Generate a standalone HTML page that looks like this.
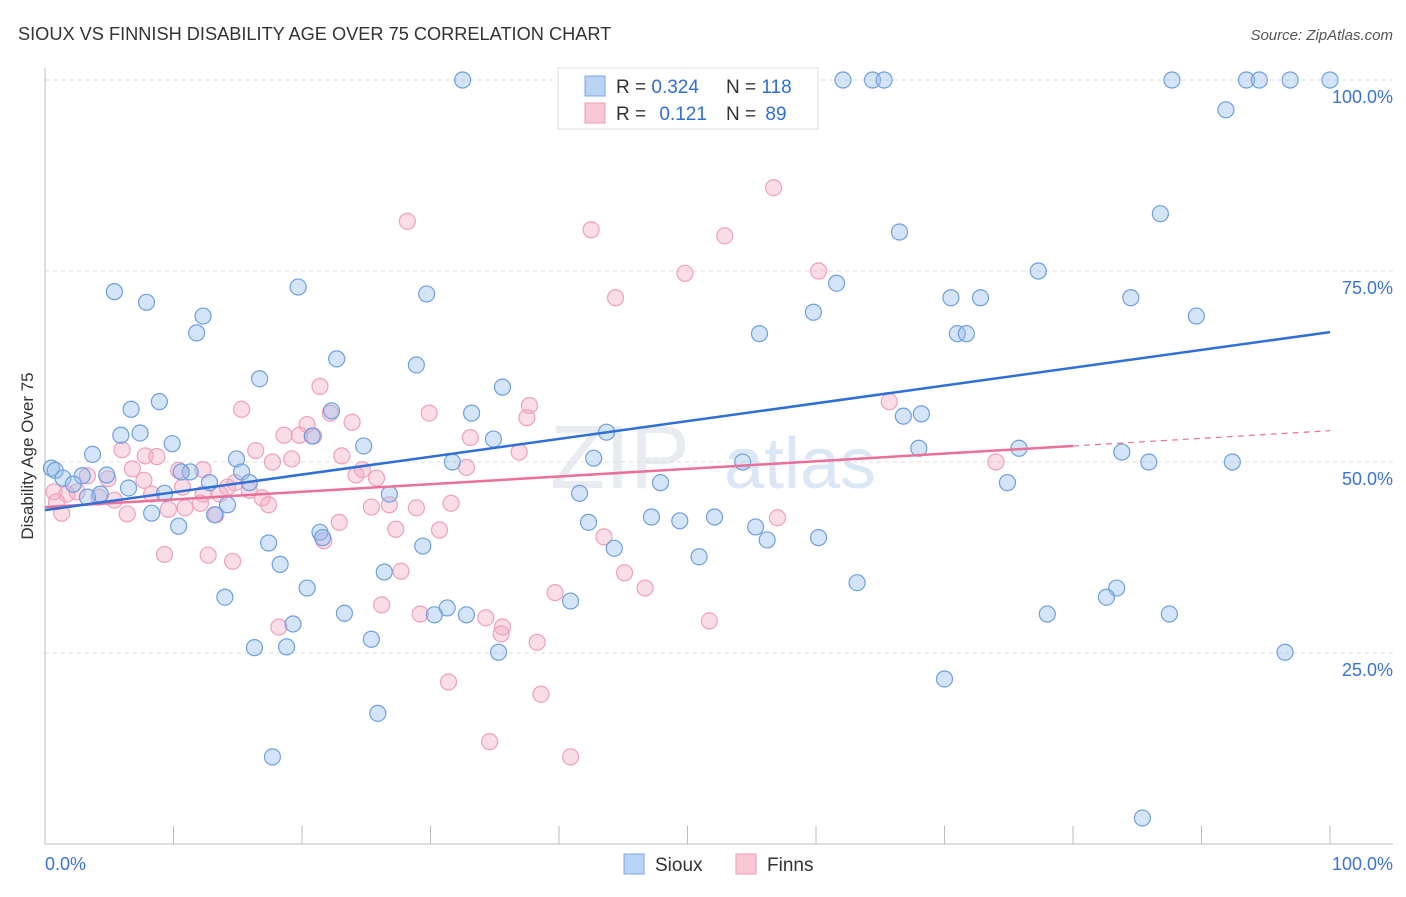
<!DOCTYPE html>
<html><head><meta charset="utf-8">
<style>
body{margin:0;background:#fff;font-family:"Liberation Sans",sans-serif;}
svg text{font-family:"Liberation Sans",sans-serif;}
</style></head>
<body>
<svg id="chart" width="1406" height="892" xmlns="http://www.w3.org/2000/svg">
<text x="18" y="40" font-size="18.2" fill="#333">SIOUX VS FINNISH DISABILITY AGE OVER 75 CORRELATION CHART</text>
<text x="1393" y="40" font-size="15" fill="#555" font-style="italic" text-anchor="end">Source: ZipAtlas.com</text>
<text x="620" y="488" font-size="90" fill="#e8ebf0" font-family="Liberation Serif" text-anchor="middle">ZIP</text>
<text x="800" y="488" font-size="72" fill="#dce7f5" text-anchor="middle">atlas</text>
<g id="grid"></g>
<g id="axes"></g>
<g id="marks"></g>
<text transform="translate(33,456) rotate(-90)" font-size="17" fill="#333" text-anchor="middle">Disability Age Over 75</text>
<g>
<rect x="558" y="68" width="260" height="61" fill="#fff" stroke="#ddd"/>
<rect x="585" y="76" width="20" height="20" fill="#b9d3f5" stroke="#7aa7e3"/>
<rect x="585" y="103" width="20" height="20" fill="#f9c8d6" stroke="#ef9bb6"/>
<text x="616" y="93" font-size="19" fill="#333">R = <tspan fill="#2f6fd6">0.324</tspan></text>
<text x="726" y="93" font-size="19" fill="#333">N = <tspan fill="#2f6fd6">118</tspan></text>
<text x="616" y="120" font-size="19" fill="#333">R = <tspan fill="#2f6fd6" dx="8">0.121</tspan></text>
<text x="726" y="120" font-size="19" fill="#333">N = <tspan fill="#2f6fd6" dx="4">89</tspan></text>
</g>
<g>
<rect x="624" y="854" width="20" height="20" fill="#b9d3f5" stroke="#7aa7e3"/>
<text x="655" y="871" font-size="19" fill="#333">Sioux</text>
<rect x="736" y="854" width="20" height="20" fill="#f9c8d6" stroke="#ef9bb6"/>
<text x="767" y="871" font-size="19" fill="#333">Finns</text>
</g>
</svg>
<script>
const siouxX=[32.5,45.4,62.1,64.4,65.3,87.7,93.5,94.5,96.9,100,91.9,86.8,66.5,77.3,5.4,7.9,19.7,29.7,61.6,70.5,72.8,84.5,59.8,89.6,12.3,11.8,55.6,71,71.7,22.7,28.9,16.7,35.6,8.9,6.7,33.2,22.3,68.2,66.8,7.4,5.9,9.9,20.8,34.9,43.7,24.8,68,75.8,83.8,3.7,14.9,31.7,42.7,54.3,85.9,92.4,0.5,0.8,4.8,2.9,11.3,10.6,15.3,1.4,2.2,12.8,15.9,6.5,47.9,74.9,4.3,3.3,9.3,26.8,41.6,14.2,8.3,13.2,47.2,49.4,52.1,42.3,10.4,55.3,21.4,21.6,56.2,60.2,17.4,29.4,44.3,50.9,18.3,26.4,63.2,20.4,83.4,82.6,14,40.9,31.3,23.3,30.3,32.8,78,87.5,19.3,25.4,16.3,18.8,35.3,96.5,70,25.9,17.7,85.4];
const siouxY=[100,100,100,100,100,100,100,100,100,100,96.1,82.5,80.1,75,72.3,70.9,72.9,72,73.4,71.5,71.5,71.5,69.6,69.1,69.1,66.9,66.8,66.8,66.8,63.5,62.7,60.9,59.8,57.9,56.9,56.4,56.7,56.3,56,53.8,53.5,52.4,53.4,53,53.9,52.1,51.8,51.8,51.3,51,50.4,50,50.5,50,50,50,49.2,48.9,48.3,48.2,48.7,48.7,48.7,47.9,47.1,47.3,47.3,46.6,47.3,47.3,45.8,45.4,45.9,45.8,45.9,44.4,43.3,43.1,42.8,42.3,42.8,42.1,41.6,41.5,40.8,40.1,39.8,40.1,39.4,39,38.7,37.6,36.6,35.6,34.2,33.5,33.5,32.3,32.3,31.8,30.9,30.2,30,30,30.1,30.1,28.8,26.8,25.7,25.8,25.1,25.1,21.6,17.1,11.4,3.4];
const finnsX=[56.7,28.2,42.5,52.9,49.8,60.2,44.4,21.4,15.3,65.7,37.7,29.9,37.5,23.9,20.4,22.2,18.6,19.8,33.1,20.9,6,16.4,7.8,8.7,19.2,23.1,36.9,17.7,74,32.8,6.8,10.4,12.3,24.7,24.2,25.8,3.3,4.9,7.7,14.8,14.2,10.7,0.7,1.7,2.5,8.3,15.9,12.3,13.6,16.9,5.4,0.9,4.2,17.4,10.9,9.6,26.8,28.9,31.6,25.4,12.1,1.3,6.4,13.3,57,22.9,27.3,30.7,43.5,21.7,9.3,12.7,14.6,27.7,45.1,46.7,39.7,26.2,29.2,34.3,51.7,35.6,18.2,35.5,38.3,31.4,38.6,34.6,40.9];
const finnsY=[85.9,81.5,80.4,79.6,74.7,75,71.5,59.9,56.9,57.9,57.4,56.4,55.8,55.2,54.9,56.4,53.5,53.5,53.2,53.4,51.6,51.5,50.8,50.7,50.4,50.8,51.3,50,50,49.3,49.1,48.9,49,49,48.3,47.9,48.2,47.8,47.6,47.3,46.7,46.7,46.1,45.8,46.1,45.8,46.3,45.8,45.8,45.3,45,44.8,45.4,44.4,44,43.8,44.4,44,44.6,44.1,44.6,43.3,43.2,43.1,42.7,42.1,41.2,41.1,40.2,39.7,37.9,37.8,37,35.7,35.5,33.5,32.9,31.3,30.1,29.6,29.2,28.4,28.4,27.5,26.4,21.2,19.6,13.4,11.4];
const siouxTrend=[43.7,67.0];
const finnsTrend=[44.1,54.1];
const finnsSolidEnd=80;
const yTicks=[25,50,75,100];
const yTickLabels=["25.0%","50.0%","75.0%","100.0%"];
const xTicks=[0,10,20,30,40,50,60,70,80,90,100];

const NS="http://www.w3.org/2000/svg";
const sx=v=>45+v*12.85;
const sy=v=>844-v*7.64;
function mk(tag,attrs,parent){const e=document.createElementNS(NS,tag);for(const k in attrs)e.setAttribute(k,attrs[k]);parent.appendChild(e);return e;}
const grid=document.getElementById('grid'),axes=document.getElementById('axes'),marks=document.getElementById('marks');
yTicks.forEach((t,i)=>{
  const l=mk('line',{x1:45,x2:1393,y1:sy(t),y2:sy(t),stroke:'#dcdcdc','stroke-dasharray':'4,4'},grid);
  
  
  const tx=mk('text',{x:1393,y:sy(t)+23,'font-size':18,fill:'#3a73d6','text-anchor':'end'},grid);
  tx.textContent=yTickLabels[i];
  
  
});
let a=mk('line',{x1:45,x2:45,y1:68,y2:844,stroke:'#bbb'},axes);


a=mk('line',{x1:45,x2:1393,y1:844,y2:844,stroke:'#bbb'},axes);


xTicks.forEach(t=>{
  const l=mk('line',{x1:sx(t),x2:sx(t),y1:826,y2:844,stroke:'#bbb'},axes);
  
  
});
let tl=mk('text',{x:45,y:870,'font-size':18,fill:'#3a73d6'},axes);tl.textContent='0.0%';


tl=mk('text',{x:1393,y:870,'font-size':18,fill:'#3a73d6','text-anchor':'end'},axes);tl.textContent='100.0%';



finnsX.forEach((x,i)=>{
  const c=mk('circle',{cx:sx(x),cy:sy(finnsY[i]),r:8,fill:'rgba(246,170,195,0.4)',stroke:'#f0a0ba','stroke-width':1.2},marks);
  
  
});
siouxX.forEach((x,i)=>{
  const c=mk('circle',{cx:sx(x),cy:sy(siouxY[i]),r:8,fill:'rgba(150,190,240,0.4)',stroke:'#6e9fe0','stroke-width':1.2},marks);
  
  
});
const fAt=v=>finnsTrend[0]+(finnsTrend[1]-finnsTrend[0])*v/100;
let t1=mk('line',{x1:sx(0),y1:sy(fAt(0)),x2:sx(finnsSolidEnd),y2:sy(fAt(finnsSolidEnd)),stroke:'#e8709a','stroke-width':2.5},marks);


t1=mk('line',{x1:sx(finnsSolidEnd),y1:sy(fAt(finnsSolidEnd)),x2:sx(100),y2:sy(fAt(100)),stroke:'#e8709a','stroke-width':1.2,'stroke-dasharray':'6,5'},marks);


t1=mk('line',{x1:sx(0),y1:sy(siouxTrend[0]),x2:sx(100),y2:sy(siouxTrend[1]),stroke:'#2f6fd6','stroke-width':2.5},marks);


</script>
</body></html>
